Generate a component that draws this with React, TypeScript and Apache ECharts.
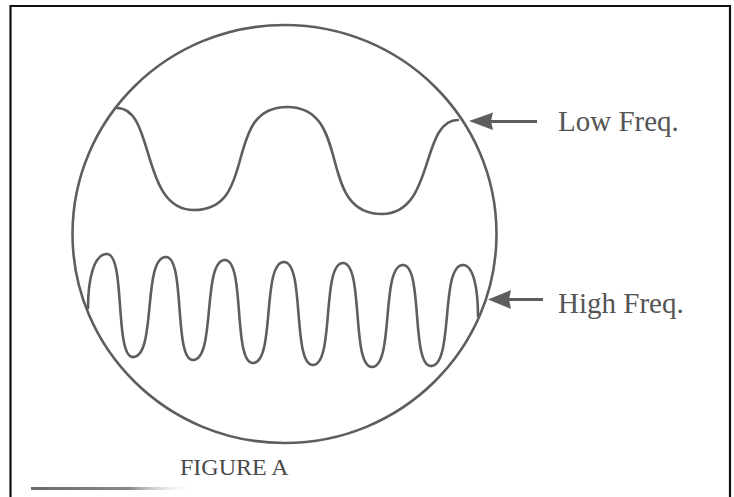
import React, { useEffect, useRef } from "react";
import * as echarts from "echarts";

// Low-frequency trace (x px, y px, y grows downward):
// entry point on the circle, trough, crest, trough, exit point on the circle
const lowFreqX = [117, 194, 287, 382, 458];
const lowFreqY = [108, 210, 107, 214, 120];

// High-frequency trace: entry point, alternating crests and troughs, exit point
const highFreqX = [88, 107, 133, 166, 193, 225, 253, 284, 313, 343, 372, 403, 431, 463, 478];
const highFreqY = [308, 254, 357, 257, 360, 260, 363, 262, 365, 263, 367, 265, 366, 265, 316];

const labels = ["Low Freq.", "High Freq."];
const caption = "FIGURE A";

const W = 734;
const H = 497;
const INK = "#5e5e5e";

function waveSeries(xs: number[], ys: number[], name: string, k: number, endMode: "h" | "v", endK: number) {
  const segs = xs.slice(0, -1).map((x, i) => [x, ys[i], xs[i + 1], ys[i + 1]]);
  const n = segs.length;
  return {
    type: "custom",
    name,
    data: segs,
    clip: false,
    encode: { x: [0, 2], y: [1, 3] },
    renderItem: (params: any, api: any) => {
      const i = params.dataIndex;
      const p0 = api.coord([api.value(0), api.value(1)]);
      const p3 = api.coord([api.value(2), api.value(3)]);
      const dx = p3[0] - p0[0];
      const dy = p3[1] - p0[1];
      const ctrl = (p: number[], isEnd: boolean, sign: number) => {
        if (!isEnd) return [p[0] + sign * k * dx, p[1]];
        if (endMode === "v") return [p[0], p[1] + sign * endK * dy];
        return [p[0] + sign * endK * dx, p[1]];
      };
      const c1 = ctrl(p0, i === 0, 1);
      const c2 = ctrl(p3, i === n - 1, -1);
      return {
        type: "bezierCurve",
        shape: { x1: p0[0], y1: p0[1], x2: p3[0], y2: p3[1], cpx1: c1[0], cpy1: c1[1], cpx2: c2[0], cpy2: c2[1] },
        style: { stroke: INK, lineWidth: 2.6, fill: "none", lineCap: "round" },
      };
    },
  };
}

export default function App() {
  const ref = useRef<HTMLDivElement>(null);
  useEffect(() => {
    if (!ref.current) return;
    const chart = echarts.init(ref.current, undefined, { renderer: "svg" });
    const serif = "'Liberation Serif', 'Times New Roman', serif";
    chart.setOption({
      animation: false,
      backgroundColor: "#ffffff",
      grid: { left: 0, right: 0, top: 0, bottom: 0 },
      xAxis: { type: "value", min: 0, max: W, show: false },
      yAxis: { type: "value", min: 0, max: H, inverse: true, show: false },
      series: [
        waveSeries(lowFreqX, lowFreqY, labels[0], 0.7, "h", 0.5),
        waveSeries(highFreqX, highFreqY, labels[1], 0.72, "v", 0.5),
      ],
      graphic: [
        // frame
        { type: "line", shape: { x1: 10, y1: 6, x2: 730, y2: 6 }, style: { stroke: "#111", lineWidth: 2.2 } },
        { type: "line", shape: { x1: 10.5, y1: 5, x2: 10.5, y2: 497 }, style: { stroke: "#111", lineWidth: 2.2 } },
        { type: "line", shape: { x1: 730, y1: 5, x2: 730, y2: 497 }, style: { stroke: "#111", lineWidth: 2.2 } },
        // scope circle
        {
          type: "ellipse",
          shape: { cx: 284.5, cy: 234, rx: 212, ry: 209 },
          style: { fill: "none", stroke: INK, lineWidth: 2.6 },
          z: 10,
        },
        // arrows
        { type: "line", shape: { x1: 490, y1: 121.5, x2: 537, y2: 121.5 }, style: { stroke: INK, lineWidth: 3 } },
        { type: "polygon", shape: { points: [[469, 121], [493, 112.5], [491, 121], [493, 130]] }, style: { fill: INK } },
        { type: "line", shape: { x1: 508, y1: 299.5, x2: 543, y2: 299.5 }, style: { stroke: INK, lineWidth: 3 } },
        { type: "polygon", shape: { points: [[488, 299.5], [511, 290], [509, 299.5], [511, 309]] }, style: { fill: INK } },
        // labels
        { type: "text", x: 558, y: 121, style: { text: labels[0], font: `29px ${serif}`, fill: "#555", verticalAlign: "middle", align: "left" } },
        { type: "text", x: 558, y: 303, style: { text: labels[1], font: `29px ${serif}`, fill: "#555", verticalAlign: "middle", align: "left" } },
        { type: "text", x: 180, y: 467, style: { text: caption, font: `24px ${serif}`, fill: "#4a4a4a", verticalAlign: "middle", align: "left" } },
        // underline bar
        {
          type: "rect",
          shape: { x: 31, y: 487, width: 165, height: 3 },
          style: {
            fill: new echarts.graphic.LinearGradient(0, 0, 1, 0, [
              { offset: 0, color: "#6a6a6a" },
              { offset: 0.6, color: "#8a8a8a" },
              { offset: 1, color: "rgba(255,255,255,0)" },
            ]),
          },
        },
      ],
    });
    return () => chart.dispose();
  }, []);
  return (
    <div
      ref={ref}
      style={{ position: "fixed", left: 0, top: 0, width: W, height: H, background: "#fff" }}
    />
  );
}
